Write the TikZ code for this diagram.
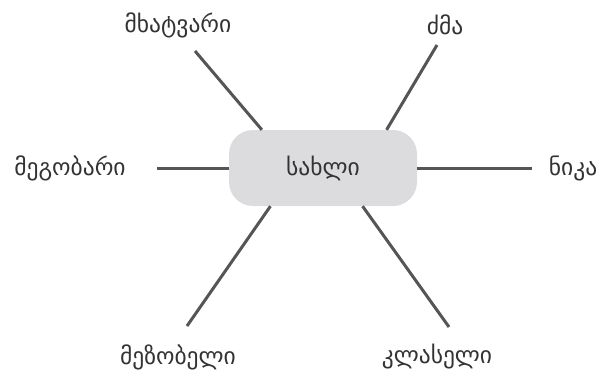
\documentclass[tikz,border=0pt]{standalone}
\usepackage{fontspec}
\setmainfont{DejaVu Sans}
\usepackage{xcolor}
\usepackage{tikz}
\definecolor{cinzaclaro}{HTML}{DCDCDE}
\definecolor{cinzaraio}{HTML}{555555}
\definecolor{tinta}{HTML}{333333}
\tikzset{
  centro/.style={fill=cinzaclaro, rounded corners=24pt, minimum width=188pt, minimum height=76pt, inner sep=0pt, font=\fontsize{23.5}{28}\selectfont, text=tinta},
  rotulo/.style={inner sep=2pt, font=\fontsize{23.5}{28}\selectfont, text=tinta},
  raio/.style={draw=cinzaraio, line width=3pt},
}
\begin{document}
\begin{tikzpicture}[x=1pt, y=-1pt]
  \useasboundingbox (0,0) rectangle (604,377);
  \node[centro] (casa) at (323,168) {სახლი};
  \foreach \n/\x/\y/\w in {pintor/178/25/მხატვარი, irmao/445/25/ძმა, amigo/70/168/მეგობარი, nika/573/168/ნიკა, vizinho/178/357/მეზობელი, colega/437/357/კლასელი}
    \node[rotulo] (\n) at (\x,\y) {\w};
  \coordinate (fpintor) at (195,51);
  \coordinate (firmao) at (437,45);
  \coordinate (famigo) at (157,168);
  \coordinate (fnika) at (532,168);
  \coordinate (fvizinho) at (187,326);
  \coordinate (fcolega) at (449,327);
  \draw[raio] (casa.148) -- (fpintor);
  \draw[raio] (casa.31) -- (firmao);
  \draw[raio] (casa.west) -- (famigo);
  \draw[raio] (casa.east) -- (fnika);
  \draw[raio] (casa.216) -- (fvizinho);
  \draw[raio] (casa.316.5) -- (fcolega);
\end{tikzpicture}
\end{document}
